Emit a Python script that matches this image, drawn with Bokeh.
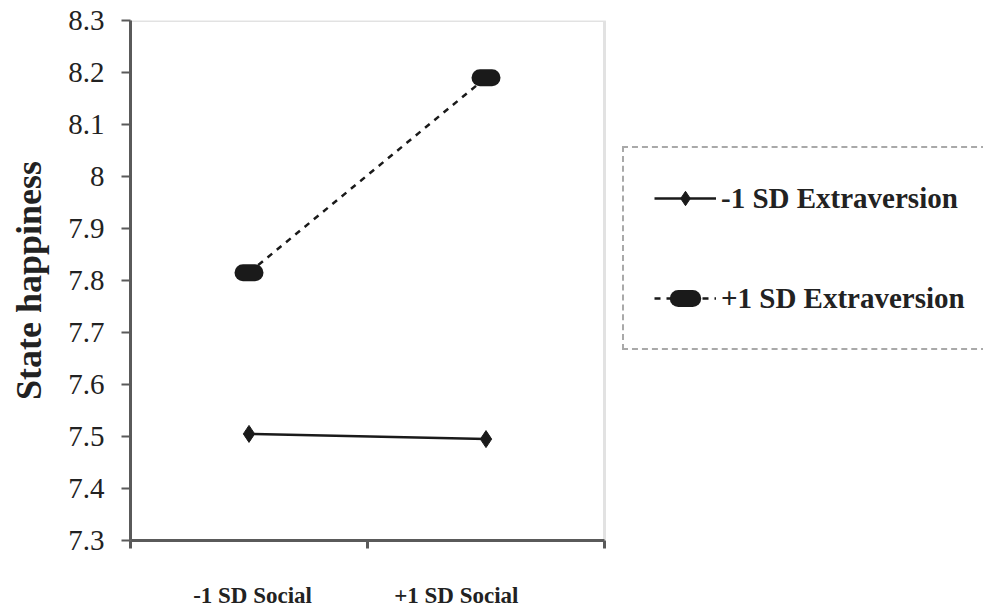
from bokeh.plotting import figure
from bokeh.models import (Range1d, FixedTicker, CustomJSTickFormatter, Legend, LegendItem,
                          BoxAnnotation)
from bokeh.embed import file_html
from bokeh.resources import INLINE

# ---- data ----
categories = ["-1 SD Social", "+1 SD Social"]
series_names = ["-1 SD Extraversion", "+1 SD Extraversion"]
low_extraversion = [7.505, 7.495]
high_extraversion = [7.815, 8.19]
y_ticks = [7.3, 7.4, 7.5, 7.6, 7.7, 7.8, 7.9, 8.0, 8.1, 8.2, 8.3]
y_title = "State happiness"

# ---- layout helpers ----
W, H = 983, 611
PLOT_L, PLOT_R, PLOT_T, PLOT_B = 130, 604, 20, 540   # visible plot box in pixels
n = len(categories)
x_pos = [i + 0.5 for i in range(n)]
label_shift = [0.015, -0.125]
label_pos = [x + s for x, s in zip(x_pos, label_shift)]
boundaries = list(range(n + 1))
x_end = n * (W - PLOT_L) / (PLOT_R - PLOT_L)   # frame extends to the right edge (legend room)

FONT = "Liberation Serif"
AXIS_COL = "#5a5a5a"

p = figure(width=W, height=H, output_backend="svg", toolbar_location=None,
           x_range=Range1d(0, x_end), y_range=Range1d(y_ticks[0], y_ticks[-1]),
           min_border_left=PLOT_L, min_border_right=0, min_border_top=PLOT_T,
           min_border_bottom=H - PLOT_B,
           background_fill_color="white", border_fill_color="white")
p.xgrid.visible = False
p.ygrid.visible = False
p.outline_line_color = None

# visible plot box
box = BoxAnnotation(left=0, right=n, bottom=y_ticks[0], top=y_ticks[-1],
                    fill_color=None, line_color="#a0a0a0", line_width=3, level="underlay")
p.add_layout(box)

# y axis
ya = p.yaxis[0]
ya.ticker = FixedTicker(ticks=y_ticks, minor_ticks=[])
ya.formatter = CustomJSTickFormatter(code="return tick.toFixed(1).replace(/\\.0$/, '');")
ya.axis_line_color = AXIS_COL
ya.axis_line_width = 3
ya.major_tick_line_color = AXIS_COL
ya.major_tick_line_width = 2
ya.major_tick_out = 9
ya.major_tick_in = 0
ya.minor_tick_line_color = None
ya.major_label_standoff = 17
ya.major_label_text_font = FONT
ya.major_label_text_font_size = "29px"
ya.major_label_text_color = "#222222"
ya.axis_label = y_title
ya.axis_label_text_font = FONT
ya.axis_label_text_font_style = "bold"
ya.axis_label_text_font_size = "36px"
ya.axis_label_text_color = "#222222"
ya.axis_label_standoff = 16

# x axis
xa = p.xaxis[0]
xa.bounds = (0, n)
xa.ticker = FixedTicker(ticks=label_pos, minor_ticks=boundaries)
xa.formatter = CustomJSTickFormatter(args=dict(labels=categories), code="return labels[index];")
xa.axis_line_color = AXIS_COL
xa.axis_line_width = 3
xa.major_tick_line_color = None
xa.major_tick_out = 0
xa.major_tick_in = 0
xa.minor_tick_line_color = AXIS_COL
xa.minor_tick_line_width = 3
xa.minor_tick_out = 8
xa.minor_tick_in = 0
xa.major_label_standoff = 34
xa.major_label_text_font = FONT
xa.major_label_text_font_style = "bold"
xa.major_label_text_font_size = "23px"
xa.major_label_text_color = "#222222"

# series
l1 = p.line(x_pos, low_extraversion, line_color="#1a1a1a", line_width=2.5)
m1 = p.scatter(x_pos, low_extraversion, marker="diamond", size=17,
               fill_color="#1a1a1a", line_color="#1a1a1a")
l2 = p.line(x_pos, high_extraversion, line_color="#1a1a1a", line_width=2.5, line_dash="6 6")
m2 = p.scatter(x_pos, high_extraversion, marker="dash", size=12,
               line_color="#1a1a1a", line_width=17, line_cap="round")

legend = Legend(items=[LegendItem(label=series_names[0], renderers=[l1, m1]),
                       LegendItem(label=series_names[1], renderers=[l2, m2])],
                location=(492, 190))
legend.orientation = "vertical"
legend.glyph_width = 62
legend.glyph_height = 36
legend.label_height = 40
legend.spacing = 60
legend.padding = 30
legend.margin = 0
legend.label_standoff = 5
legend.label_text_font = FONT
legend.label_text_font_style = "bold"
legend.label_text_font_size = "29px"
legend.label_text_color = "#222222"
legend.label_text_baseline = "middle"
legend.border_line_color = "#555555"
legend.border_line_width = 2
legend.border_line_dash = "2 1"
legend.background_fill_color = "white"
legend.background_fill_alpha = 1
p.add_layout(legend, "center")

open("out.html", "w").write(file_html(p, INLINE))
